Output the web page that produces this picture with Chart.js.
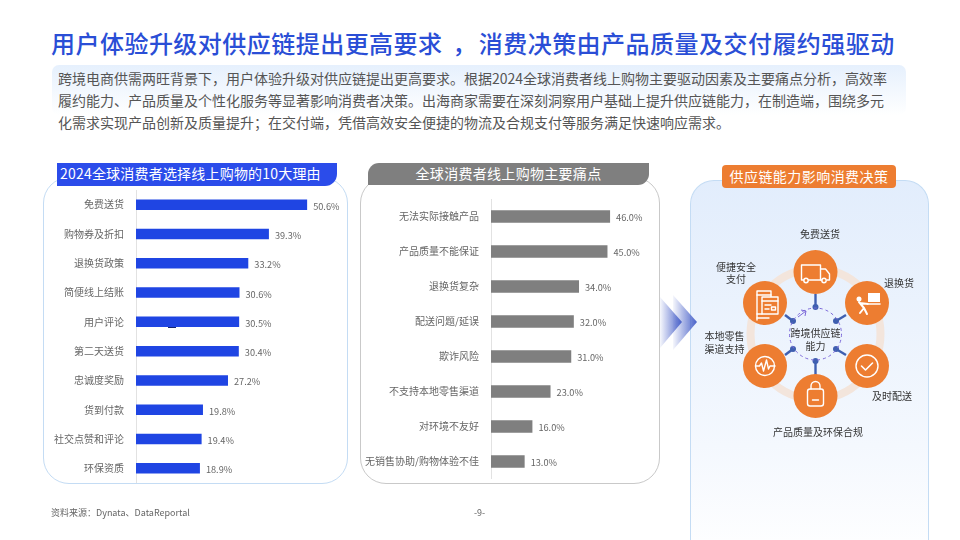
<!DOCTYPE html>
<html lang="zh">
<head>
<meta charset="utf-8">
<title>供应链能力影响消费决策</title>
<script src="https://cdn.jsdelivr.net/npm/chart.js@4/dist/chart.umd.min.js"></script>
<style>
  html, body { margin: 0; padding: 0; background: #fff; }
  body { width: 960px; height: 540px; position: relative; overflow: hidden;
         font-family: "Noto Sans CJK SC", "Noto Sans", sans-serif; }
  .abs { position: absolute; white-space: nowrap; }
  #title { left: 51px; top: 25px; font-size: 24px; line-height: 36px; font-weight: 500;
           letter-spacing: 0.47px; color: #2a4ed6; }
  #title span { position: relative; left: 4px; }
  #introBox { left: 52px; top: 65px; width: 854px; height: 50px; border-radius: 7px;
              background: linear-gradient(#e6f0fd, #ffffff); }
  .intro { left: 58px; font-size: 14px; line-height: 22px; color: #555; }
  .panel { box-sizing: border-box; background: #fff; border-radius: 26px; }
  #panelA { left: 43px; top: 177px; width: 305px; height: 307px; border: 1px solid #c4dcf4; }
  #panelB { left: 360px; top: 177px; width: 300px; height: 307px; border: 1px solid #c9c9c9; }
  #panelC { left: 690px; top: 180px; width: 239px; height: 380px; border-radius: 24px 24px 0 0;
            border: 1px solid #c4dcf4; border-bottom: 0;
            background: linear-gradient(#e2edfc, #f4f8fe 70%, #ffffff); }
  .head { color: #fff; text-align: center; font-size: 14px; }
  #headA { left: 57px; top: 163px; width: 280px; height: 23px; line-height: 21px; background: #2b4cea;
           border-radius: 0 0 12px 0; text-align: left; text-indent: 3px; letter-spacing: 0.2px; }
  #headB { left: 368px; top: 163px; width: 281px; height: 22px; line-height: 20px; background: #7f7f7f;
           border-radius: 11px 0 11px 0; letter-spacing: 0.3px; }
  #headC { left: 722px; top: 165px; width: 174px; height: 23px; line-height: 22px; background: #ed7d31;
           border-radius: 4px; letter-spacing: 0.45px; }
  canvas { position: absolute; }
  #chartA { left: 34px; top: 190px; }
  #chartB { left: 352px; top: 199px; }
  #speck { left: 168px; top: 327px; width: 8px; height: 1px; background: #15256f; }
  .foot { font-size: 9px; line-height: 12px; color: #666; top: 507px; }
  svg { position: absolute; left: 0; top: 0; }
  svg text { font-family: "Noto Sans CJK SC", sans-serif; font-size: 10px; fill: #333; text-anchor: middle; }
</style>
</head>
<body>
<div class="abs" id="title">用户体验升级对供应链提出更高要求 <span>，</span> 消费决策由产品质量及交付履约强驱动</div>
<div class="abs" id="introBox"></div>
<div class="abs intro" style="top:67px">跨境电商供需两旺背景下，用户体验升级对供应链提出更高要求。根据2024全球消费者线上购物主要驱动因素及主要痛点分析，高效率</div>
<div class="abs intro" style="top:89px">履约能力、产品质量及个性化服务等显著影响消费者决策。出海商家需要在深刻洞察用户基础上提升供应链能力，在制造端，围绕多元</div>
<div class="abs intro" style="top:111px">化需求实现产品创新及质量提升；在交付端，凭借高效安全便捷的物流及合规支付等服务满足快速响应需求。</div>

<div class="abs panel" id="panelA"></div>
<div class="abs panel" id="panelB"></div>
<div class="abs panel" id="panelC"></div>
<div class="abs head" id="headA">2024全球消费者选择线上购物的10大理由</div>
<div class="abs head" id="headB">全球消费者线上购物主要痛点</div>
<div class="abs head" id="headC">供应链能力影响消费决策</div>

<canvas id="chartA" width="310" height="293"></canvas>
<canvas id="chartB" width="300" height="280"></canvas>
<div class="abs" id="speck"></div>

<svg width="960" height="540" viewBox="0 0 960 540">
  <defs>
    <linearGradient id="arrowFade" x1="0" x2="1" y1="0" y2="0">
      <stop offset="0" stop-color="#4a62c9" stop-opacity="0.05"/>
      <stop offset="1" stop-color="#4a62c9"/>
    </linearGradient>
  </defs>
  <polygon points="660,297 682,322 660,348" fill="url(#arrowFade)"/>
  <polygon points="673,295 697,322 673,350" fill="url(#arrowFade)"/>

  <!-- ring behind the nodes -->
  <circle cx="815.5" cy="334" r="65" fill="none" stroke="#f3e5dc" stroke-width="8"/>

  <!-- spokes -->
  <g stroke="#3f5fb0" stroke-width="2.4" fill="#3f5fb0">
    <line x1="815.5" y1="294" x2="815.5" y2="307"/>
    <line x1="815.5" y1="361" x2="815.5" y2="375"/>
    <line x1="785" y1="315" x2="793" y2="321"/>
    <line x1="846" y1="315" x2="836" y2="321"/>
    <line x1="785" y1="355" x2="793" y2="349"/>
    <line x1="846" y1="355" x2="836" y2="349"/>
    <g stroke="none">
      <circle cx="815.5" cy="307" r="3"/><circle cx="815.5" cy="361" r="3"/>
      <circle cx="793" cy="321" r="3"/><circle cx="836" cy="321" r="3"/>
      <circle cx="793" cy="349" r="3"/><circle cx="836" cy="349" r="3"/>
    </g>
  </g>
  <circle cx="815.5" cy="334" r="26" fill="none" stroke="#7b68d8" stroke-width="1" stroke-dasharray="3 3"/>
  <path d="M798 317 l8 -6 m-5 -1 l5 1 l-1 5" fill="none" stroke="#7b68d8" stroke-width="1"/>
  <text x="815.5" y="337">跨境供应链</text>
  <text x="815.5" y="350">能力</text>

  <!-- nodes -->
  <g fill="#ed7d31">
    <circle cx="815.5" cy="272" r="22"/>
    <circle cx="765" cy="303" r="22"/>
    <circle cx="867" cy="303" r="22"/>
    <circle cx="765" cy="366" r="22"/>
    <circle cx="867" cy="366" r="22"/>
    <circle cx="815.5" cy="396" r="22"/>
  </g>

  <g fill="none" stroke="#fff" stroke-width="1.4" stroke-linejoin="round" stroke-linecap="round">
    <!-- truck -->
    <path d="M804 280 h-2.500 v-15 h19 v15 h-12"/>
    <path d="M820.500 269 h5 l4 5 v6 h-2.500 M820.500 280 h1.500" />
    <circle cx="806" cy="280.500" r="2.200"/><circle cx="824" cy="280.500" r="2.200"/>
    <!-- payment cards -->
    <path d="M757 320 v-29 h14 v6"/><path d="M757 295 h14"/>
    <rect x="762" y="297" width="16" height="17" fill="#ed7d31"/>
    <path d="M762 301 h16 M765 305 h6 M765 309 h4"/>
    <rect x="771.500" y="307" width="4" height="3"/>
    <path d="M757 314 h5 M757 318 h12"/>
    <!-- return box and person -->
    <rect x="868" y="293" width="12" height="9" fill="#fff" stroke="none"/>
    <path d="M869 304 h11" stroke-width="1.600"/>
    <circle cx="859" cy="299" r="2.500" fill="#fff" stroke="none"/>
    <path d="M859 302 l5 6 l-4 5 M864 308 l3 6 M860 303 l8 1" stroke-width="2"/>
    <!-- check -->
    <circle cx="867" cy="366" r="11"/>
    <path d="M861.500 366 l4 4 l7 -7" stroke-width="1.600"/>
    <!-- pulse -->
    <circle cx="765" cy="366" r="9.500"/>
    <path d="M755.500 366 h4 l2 -3 l2 8 l3 -11 l2 9 l1.500 -3 h5"/>
    <!-- bag -->
    <rect x="807.500" y="389" width="16" height="17" rx="2.500"/>
    <path d="M811 389 v-3 a4.500 4.500 0 0 1 9 0 v3 M812.500 400 h6"/>
  </g>

  <text x="820" y="238">免费送货</text>
  <text x="736" y="271">便捷安全</text>
  <text x="736" y="283">支付</text>
  <text x="899" y="287">退换货</text>
  <text x="724.500" y="340">本地零售</text>
  <text x="724.500" y="353">渠道支持</text>
  <text x="892" y="400">及时配送</text>
  <text x="818" y="436">产品质量及环保合规</text>
</svg>

<div class="abs foot" style="left:51px">资料来源：Dynata、DataReportal</div>
<div class="abs foot" style="left:474px">-9-</div>

<script>
  // === Data ===
  const reasonLabels = ['免费送货', '购物券及折扣', '退换货政策', '简便线上结账', '用户评论',
    '第二天送货', '忠诚度奖励', '货到付款', '社交点赞和评论', '环保资质'];
  const reasonValues = [50.6, 39.3, 33.2, 30.6, 30.5, 30.4, 27.2, 19.8, 19.4, 18.9];

  const painLabels = ['无法实际接触产品', '产品质量不能保证', '退换货复杂', '配送问题/延误', '欺诈风险',
    '不支持本地零售渠道', '对环境不友好', '无销售协助/购物体验不佳'];
  const painValues = [46.0, 45.0, 34.0, 32.0, 31.0, 23.0, 16.0, 13.0];

  const FONT = '"Noto Sans CJK SC", "Noto Sans", sans-serif';

  // value labels at the end of each bar
  const valueLabels = {
    id: 'valueLabels',
    afterDatasetsDraw(chart) {
      const ctx = chart.ctx;
      const meta = chart.getDatasetMeta(0);
      ctx.save();
      ctx.font = '9.2px ' + FONT;
      ctx.fillStyle = '#666';
      ctx.textAlign = 'left';
      ctx.textBaseline = 'middle';
      meta.data.forEach((bar, i) => {
        const v = chart.data.datasets[0].data[i];
        ctx.fillText(v.toFixed(1) + '%', bar.x + 6, bar.y + 1.5);
      });
      ctx.restore();
    }
  };

  function drawBars(id, labels, values, color, axisWidth, xMax, barPct) {
    return new Chart(document.getElementById(id), {
      type: 'bar',
      data: {
        labels,
        datasets: [{ data: values, backgroundColor: color, barPercentage: barPct, categoryPercentage: 1 }]
      },
      options: {
        indexAxis: 'y',
        responsive: false,
        animation: false,
        layout: { padding: 0, autoPadding: false },
        plugins: { legend: { display: false }, tooltip: { enabled: false } },
        scales: {
          x: { display: false, min: 0, max: xMax },
          y: {
            // fixed axis width, and no extra room above and below the rows
            afterFit(scale) {
              scale.width = axisWidth;
              scale.paddingTop = 0;
              scale.paddingBottom = 0;
            },
            grid: { display: false, drawTicks: false },
            border: { color: '#e2e2e2' },
            ticks: { color: '#666', padding: 12, autoSkip: false, font: { size: 10, family: FONT } }
          }
        }
      },
      plugins: [valueLabels]
    });
  }

  drawBars('chartA', reasonLabels, reasonValues, '#1f45e3', 102, 61.5, 0.36);
  drawBars('chartB', painLabels, painValues, '#7f7f7f', 139, 62.2, 0.36);
</script>
</body>
</html>
